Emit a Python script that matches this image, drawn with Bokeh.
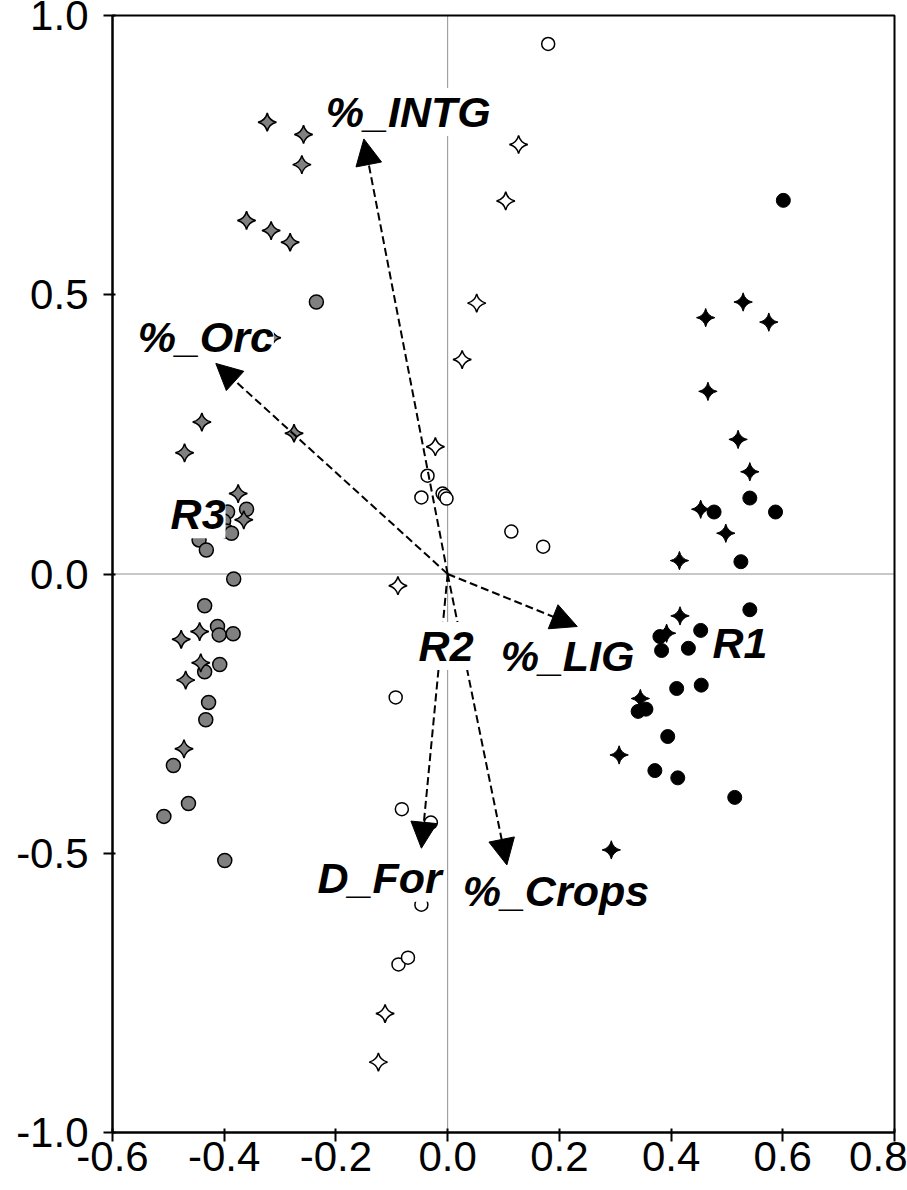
import numpy as np
from bokeh.plotting import figure
from bokeh.models import (Range1d, FixedTicker, Span, Arrow, NormalHead, Label,
                          ColumnDataSource, PrintfTickFormatter)
from bokeh.embed import file_html
from bokeh.resources import INLINE

# ---------------- data ----------------
# R3 group: gray circles / gray stars
gray_circle_x = [-0.235, -0.394, -0.360, -0.401, -0.396, -0.387, -0.445, -0.432, -0.383, -0.435,
                 -0.412, -0.409, -0.384, -0.408, -0.435, -0.428, -0.433, -0.491, -0.464, -0.508, -0.399]
gray_circle_y = [0.487, 0.111, 0.116, 0.095, 0.077, 0.073, 0.061, 0.043, -0.009, -0.057,
                 -0.094, -0.109, -0.107, -0.162, -0.175, -0.230, -0.261, -0.343, -0.411, -0.434, -0.513]
gray_star_x = [-0.323, -0.258, -0.261, -0.360, -0.316, -0.282, -0.315, -0.440, -0.471, -0.275,
               -0.375, -0.365, -0.444, -0.477, -0.442, -0.469, -0.472]
gray_star_y = [0.809, 0.787, 0.733, 0.633, 0.615, 0.594, 0.423, 0.272, 0.217, 0.252,
               0.144, 0.097, -0.103, -0.117, -0.159, -0.190, -0.313]

# R2 group: open circles / open stars
open_circle_x = [0.180, -0.036, -0.047, -0.009, -0.005, -0.002, 0.114, 0.171, -0.093, -0.082,
                 -0.030, -0.047, -0.088, -0.071]
open_circle_y = [0.949, 0.176, 0.137, 0.144, 0.140, 0.135, 0.076, 0.049, -0.221, -0.421,
                 -0.445, -0.592, -0.699, -0.687]
open_star_x = [0.127, 0.104, 0.052, 0.026, -0.022, -0.089, -0.112, -0.124]
open_star_y = [0.769, 0.668, 0.485, 0.384, 0.228, -0.021, -0.787, -0.874]

# R1 group: black circles / black stars
black_circle_x = [0.601, 0.477, 0.541, 0.587, 0.525, 0.541, 0.453, 0.431, 0.380, 0.383,
                  0.410, 0.454, 0.341, 0.355, 0.394, 0.371, 0.412, 0.514]
black_circle_y = [0.669, 0.111, 0.136, 0.111, 0.022, -0.064, -0.101, -0.133, -0.112, -0.137,
                  -0.205, -0.199, -0.246, -0.242, -0.291, -0.352, -0.365, -0.400]
black_star_x = [0.529, 0.462, 0.575, 0.466, 0.520, 0.541, 0.453, 0.498, 0.415, 0.416,
                0.392, 0.345, 0.307, 0.293]
black_star_y = [0.487, 0.459, 0.451, 0.327, 0.241, 0.183, 0.116, 0.073, 0.024, -0.075,
                -0.106, -0.223, -0.324, -0.494]

# variable vectors
vector_names = ["%_INTG", "%_Orc", "%_LIG", "D_For", "%_Crops"]
vector_x = [-0.150, -0.415, 0.232, -0.047, 0.106]
vector_y = [0.779, 0.377, -0.094, -0.491, -0.521]

# text labels
label_texts = ["%_INTG", "%_Orc", "R3", "R2", "%_LIG", "R1", "D_For", "%_Crops"]

x_ticks = [-0.6, -0.4, -0.2, 0.0, 0.2, 0.4, 0.6, 0.8]
y_ticks = [-1.0, -0.5, 0.0, 0.5, 1.0]

# ---------------- layout / style ----------------
# label anchor positions (left edge, vertical middle of capitals)
label_pos = [(-0.218, 0.827), (-0.555, 0.424), (-0.496, 0.107), (-0.052, -0.129),
             (0.095, -0.147), (0.474, -0.123), (-0.233, -0.544), (0.027, -0.567)]
FONT = "Liberation Sans"

p = figure(width=907, height=1190, output_backend="svg", toolbar_location=None,
           x_range=Range1d(-0.6, 0.8), y_range=Range1d(-1.0, 1.0),
           min_border_left=112, min_border_right=13, min_border_top=15, min_border_bottom=58)
p.background_fill_color = "white"
p.border_fill_color = "white"
p.outline_line_color = "black"
p.outline_line_width = 2
p.xgrid.visible = False
p.ygrid.visible = False

# axes
p.yaxis.ticker = FixedTicker(ticks=y_ticks)
p.yaxis.formatter = PrintfTickFormatter(format="%.1f")
p.yaxis.major_label_text_font = FONT
p.yaxis.major_label_text_font_size = "42px"
p.yaxis.major_label_text_color = "black"
p.yaxis.major_label_standoff = 15
p.yaxis.major_tick_out = 9
p.yaxis.major_tick_in = 3
p.yaxis.minor_tick_line_color = None
p.yaxis.axis_line_width = 2
p.yaxis.major_tick_line_width = 2

p.xaxis.ticker = FixedTicker(ticks=x_ticks)
p.xaxis.formatter = PrintfTickFormatter(format="%.1f")
p.xaxis.major_label_text_font = FONT
p.xaxis.major_label_text_font_size = "42px"
p.xaxis.major_label_text_color = "black"
p.xaxis.major_label_standoff = 0
p.xaxis.major_tick_out = 9
p.xaxis.major_tick_in = 4
p.xaxis.minor_tick_line_color = None
p.xaxis.axis_line_width = 2
p.xaxis.major_tick_line_width = 2

# zero lines
p.add_layout(Span(location=0, dimension="height", line_color="#222222", line_width=1,
                  line_dash="1 1", level="underlay"))
p.add_layout(Span(location=0, dimension="width", line_color="#222222", line_width=1,
                  line_dash="1 1", level="underlay"))

# points
STAR_ANGLE = np.pi / 4
p.scatter(gray_circle_x, gray_circle_y, marker="circle", size=14,
          fill_color="#808080", line_color="black", line_width=1.5)
p.scatter(gray_star_x, gray_star_y, marker="square_pin", angle=STAR_ANGLE, size=13,
          fill_color="#808080", line_color="black", line_width=1.5)
p.scatter(open_circle_x, open_circle_y, marker="circle", size=13,
          fill_color="white", line_color="black", line_width=1.5)
p.scatter(open_star_x, open_star_y, marker="square_pin", angle=STAR_ANGLE, size=13,
          fill_color="white", line_color="black", line_width=1.5)
p.scatter(black_circle_x, black_circle_y, marker="circle", size=14,
          fill_color="black", line_color="black", line_width=1)
p.scatter(black_star_x, black_star_y, marker="square_pin", angle=STAR_ANGLE, size=13,
          fill_color="black", line_color="black", line_width=1)

# vectors
vsrc = ColumnDataSource(dict(x0=[0.0] * len(vector_x), y0=[0.0] * len(vector_y),
                             x1=vector_x, y1=vector_y, name=vector_names))
p.add_layout(Arrow(x_start="x0", y_start="y0", x_end="x1", y_end="y1", source=vsrc,
                   line_color="black", line_width=2, line_dash="8 4",
                   end=NormalHead(size=26, fill_color="black", line_color="black",
                                  line_width=1)))

# labels
for t, (lx, ly) in zip(label_texts, label_pos):
    p.add_layout(Label(x=lx, y=ly, text=t, text_font=FONT, text_font_size="43px",
                       text_font_style="bold italic", text_color="black",
                       text_baseline="middle", text_align="left",
                       background_fill_color="white"))

open("out.html", "w").write(file_html(p, INLINE))
